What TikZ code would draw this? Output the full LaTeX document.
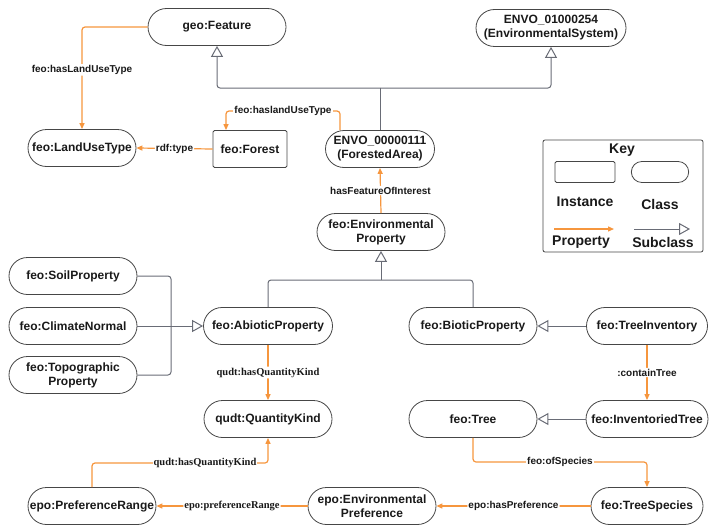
\documentclass[tikz,border=0pt]{standalone}
\usepackage{fontspec}
\setmainfont{Liberation Sans}
\newfontfamily\labserif{Liberation Serif}
\usetikzlibrary{shapes.misc,arrows.meta}
\definecolor{propc}{RGB}{246,150,62}
\definecolor{subc}{RGB}{105,108,118}
\definecolor{edgec}{RGB}{70,70,70}
\definecolor{txt}{RGB}{25,25,25}
\tikzset{
  cls/.style={rounded rectangle, draw=edgec, line width=0.8pt, minimum height=37pt,
    minimum width=130pt, inner sep=1pt, align=center, text=txt,
    font=\fontsize{12}{14}\selectfont\bfseries},
  inst/.style={rectangle, draw=edgec, line width=0.8pt, minimum height=37pt,
    minimum width=74pt, inner sep=1pt, rounded corners=1.5pt, text=txt,
    font=\fontsize{12}{14}\selectfont\bfseries},
  prop/.style={draw=propc, line width=1.2pt, rounded corners=3pt,
    -{Triangle[length=6pt,width=5pt]}},
  subl/.style={draw=subc, line width=1pt, rounded corners=3pt},
  sub/.style={subl, -{Triangle[open,length=11pt,width=12pt,fill=white]}},
  elab/.style={fill=white, inner sep=1pt, text=txt,
    font=\fontsize{10}{12}\selectfont\bfseries},
  slab/.style={fill=white, inner sep=1pt, text=txt,
    font=\fontsize{10.5}{12}\selectfont\labserif\bfseries},
  keytxt/.style={text=txt, font=\fontsize{14}{16}\selectfont\bfseries},
}
\begin{document}
\begin{tikzpicture}[x=1pt,y=-1pt]
\useasboundingbox (0,0) rectangle (711,527);

% top row
\node[cls, minimum width=140pt] (geo) at (217,27) {geo:Feature};
\node[cls, minimum width=152pt] (envsys) at (551,28) {ENVO\_01000254\\(EnvironmentalSystem)};
\node[cls, minimum width=110pt] (lut) at (82,148) {feo:LandUseType};
\node[inst] (forest) at (250,149) {feo:Forest};
\node[cls, minimum width=111pt] (forarea) at (380,149) {ENVO\_00000111\\(ForestedArea)};

% properties
\node[cls] (envprop) at (381,232) {feo:Environmental\\Property};
\node[cls] (soil) at (73,276) {feo:SoilProperty};
\node[cls] (climate) at (73,326) {feo:ClimateNormal};
\node[cls] (topo) at (73,375) {feo:Topographic\\Property};
\node[cls, minimum width=131pt] (abiotic) at (268,326) {feo:AbioticProperty};
\node[cls] (biotic) at (473,326) {feo:BioticProperty};
\node[cls, minimum width=123pt] (inventory) at (647,326) {feo:TreeInventory};
\node[cls] (qkind) at (268,419) {qudt:QuantityKind};
\node[cls] (tree) at (473,419) {feo:Tree};
\node[cls, minimum width=124pt] (invtree) at (647,419) {feo:InventoriedTree};
\node[cls] (prange) at (92,506) {epo:PreferenceRange};
\node[cls] (envpref) at (372,506) {epo:Environmental\\Preference};
\node[cls, minimum width=114pt] (species) at (647,506) {feo:TreeSpecies};

% subclass junctions
\coordinate (jtop) at (380,88);
\coordinate (jmid) at (381,280);
\coordinate (jleft) at (171,326);

% subclass links
\draw[subl] (forarea.north) -- (jtop);
\draw[sub] (jtop) -| (geo.south);
\draw[sub] (jtop) -| (envsys.south);
\draw[subl] (abiotic.north) |- (jmid) -| (biotic.north);
\draw[sub] (jmid) -- (envprop.south);
\draw[subl] (soil.east) -| (jleft) |- (topo.east);
\draw[sub] (climate.east) -- (abiotic.west);
\draw[sub] (inventory.west) -- (biotic.east);
\draw[sub] (invtree.west) -- (tree.east);

% object properties
\draw[prop] (geo.west) -| (lut.north) node[elab, pos=0.71] {feo:hasLandUseType};
\draw[prop] (forest.west) -- (lut.east) node[elab, midway] {rdf:type};
\coordinate (fa1) at (340,111);
\draw[prop] ([xshift=-40pt]forarea.north) -- (fa1) -| ([xshift=-24pt]forest.north);
\node[elab] (falab) at (283,111) {feo:haslandUseType};
\draw[prop] (envprop.north) -- (forarea.south) node[elab, midway] {hasFeatureOfInterest};
\draw[prop] (abiotic.south) -- (qkind.north) node[slab, midway] {qudt:hasQuantityKind};
\draw[prop] (inventory.south) -- (invtree.north) node[elab, midway] {:containTree};
\coordinate (tr1) at (475,462);
\draw[prop] (tree.south) |- (tr1 -| species.north) -- (species.north);
\node[elab] (ofslab) at (560,462) {feo:ofSpecies};
\draw[prop] (species.west) -- (envpref.east) node[elab, midway] {epo:hasPreference};
\draw[prop] (envpref.west) -- (prange.east) node[slab, midway] {epo:preferenceRange};
\coordinate (pr1) at (92,463);
\draw[prop] (prange.north) |- (pr1 -| qkind.south) -- (qkind.south);
\node[slab] (qklab) at (205,463) {qudt:hasQuantityKind};

% key
\node[draw=edgec, line width=0.8pt, rounded corners=2pt, minimum width=160pt,
  minimum height=112pt] (keybox) at (623,196) {};
\node[keytxt] (keyttl) at (622,150) {Key};
\node[draw=edgec, line width=0.8pt, rounded corners=1.5pt, minimum width=60pt,
  minimum height=21pt] (keyinst) at (585,172) {};
\node[rounded rectangle, draw=edgec, line width=0.8pt, minimum width=64pt,
  minimum height=21pt] (keycls) at (660,172) {};
\node[keytxt] (keyinstl) at (585,202) {Instance};
\node[keytxt] (keyclsl) at (660,204) {Class};
\coordinate (kp1) at (554,229);
\coordinate (kp2) at (614,229);
\coordinate (ks1) at (634,229);
\coordinate (ks2) at (690,229);
\draw[prop] (kp1) -- (kp2);
\draw[sub] (ks1) -- (ks2);
\node[keytxt] (keypropl) at (581,242) {Property};
\node[keytxt] (keysubl) at (663,242) {Subclass};
\end{tikzpicture}
\end{document}
